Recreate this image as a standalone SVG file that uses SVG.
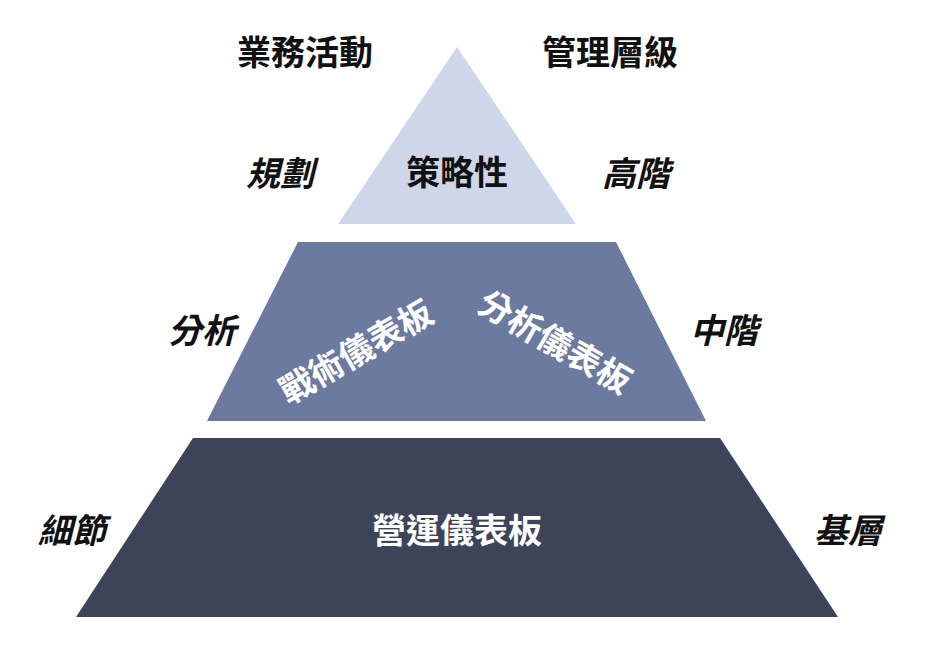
<svg xmlns="http://www.w3.org/2000/svg" width="936" height="664" viewBox="0 0 936 664">
<style>
text{font-family:"Noto Sans CJK TC","Noto Sans CJK SC",sans-serif;font-weight:bold;text-anchor:middle;dominant-baseline:central}
.h{font-size:34px;fill:#111}
.s{font-size:34px;fill:#111;font-style:italic}
.w{font-size:34px;fill:#fff}
</style>
<rect width="936" height="664" fill="#fff"/>
<g id="top"><polygon points="457,47 576,224 338,224" fill="#d0d6ea"/><text class="h" x="457" y="170">策略性</text></g>
<g id="middle"><polygon points="298,242 616,242 706,421 207,421" fill="#6b7a9e"/>
<text class="w" transform="translate(355,350) rotate(-30)">戰術儀表板</text>
<text class="w" transform="translate(556,340) rotate(30)">分析儀表板</text></g>
<g id="bottom"><polygon points="193,438 720,438 838,617 76,617" fill="#3d4459"/><text class="w" x="457" y="528">營運儀表板</text></g>
<g id="labels">
<text class="h" x="305" y="50">業務活動</text><text class="h" x="610" y="50">管理層級</text>
<text class="s" x="280" y="171">規劃</text><text class="s" x="636" y="171">高階</text>
<text class="s" x="202" y="328">分析</text><text class="s" x="724" y="328">中階</text>
<text class="s" x="72" y="528">細節</text><text class="s" x="848" y="528">基層</text>
</g>
</svg>
